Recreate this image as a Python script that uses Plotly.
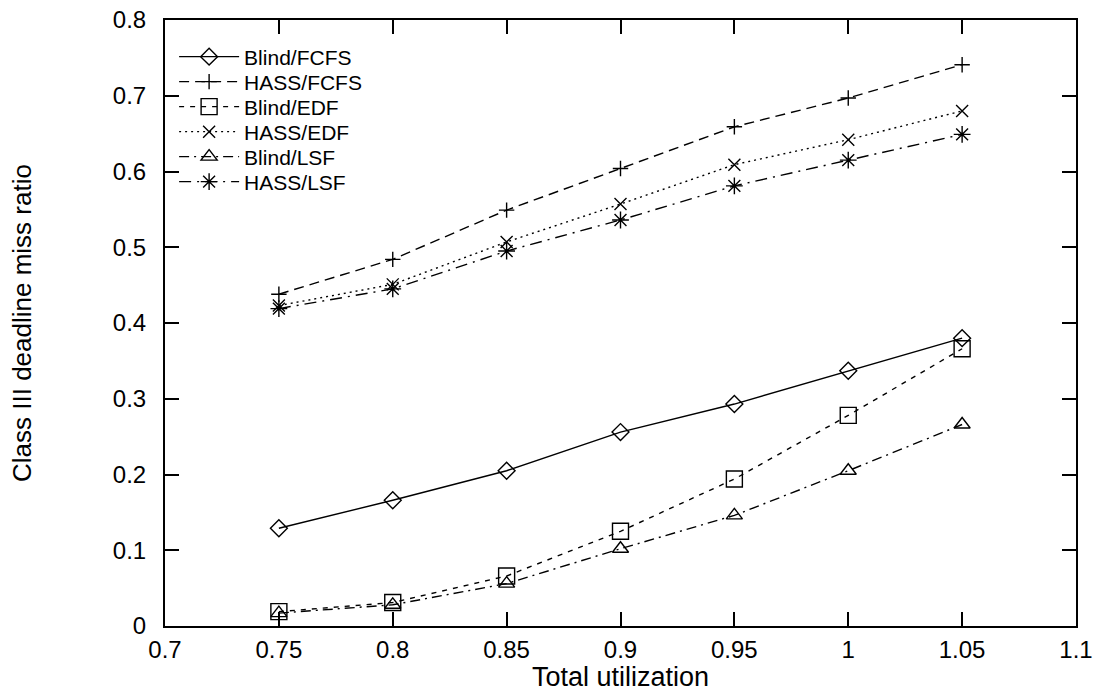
import plotly.graph_objects as go

# ---- data ----
utilization = [0.75, 0.8, 0.85, 0.9, 0.95, 1.0, 1.05]

blind_fcfs = [0.129, 0.166, 0.205, 0.256, 0.293, 0.337, 0.380]
hass_fcfs = [0.438, 0.484, 0.549, 0.604, 0.659, 0.697, 0.741]
blind_edf = [0.019, 0.031, 0.066, 0.125, 0.194, 0.278, 0.366]
hass_edf = [0.423, 0.451, 0.507, 0.557, 0.609, 0.642, 0.680]
blind_lsf = [0.017, 0.028, 0.056, 0.102, 0.146, 0.205, 0.266]
hass_lsf = [0.419, 0.445, 0.495, 0.536, 0.581, 0.615, 0.649]

series_names = ["Blind/FCFS", "HASS/FCFS", "Blind/EDF", "HASS/EDF", "Blind/LSF", "HASS/LSF"]
series_values = [blind_fcfs, hass_fcfs, blind_edf, hass_edf, blind_lsf, hass_lsf]

x_tick_vals = [0.7, 0.75, 0.8, 0.85, 0.9, 0.95, 1.0, 1.05, 1.1]
x_tick_text = ["0.7", "0.75", "0.8", "0.85", "0.9", "0.95", "1", "1.05", "1.1"]
y_tick_vals = [0, 0.1, 0.2, 0.3, 0.4, 0.5, 0.6, 0.7, 0.8]
y_tick_text = ["0", "0.1", "0.2", "0.3", "0.4", "0.5", "0.6", "0.7", "0.8"]

x_title = "Total utilization"
y_title = "Class III deadline miss ratio"

# ---- styles ----
symbols = ["diamond-open", "cross-thin-open", "square-open", "x-thin-open",
           "triangle-up-open", "asterisk-open"]
sizes = [13, 11, 16, 12, 14, 14]
dashes = ["solid", "10px,6px", "5px,6px", "2px,4px", "10px,5px,2px,5px", "12px,6px,2px,6px"]

FONT = "Liberation Sans, Arial, Helvetica, sans-serif"

W, H = 1101, 692
L, R, T, B = 165, 25, 20, 66
plot_w = W - L - R
plot_h = H - T - B
plot_bottom = H - B

fig = go.Figure()
legend_keys = ["legend", "legend2", "legend3", "legend4", "legend5", "legend6"]
row_px = [57, 82, 107, 132, 157, 182]  # legend row centres, pixels from top

for i, (name, vals) in enumerate(zip(series_names, series_values)):
    fig.add_trace(go.Scatter(
        x=utilization, y=vals, name=name, mode="lines+markers",
        line=dict(color="black", width=1.4, dash=dashes[i]),
        marker=dict(symbol=symbols[i], size=sizes[i], color="black",
                    line=dict(color="black", width=1.4)),
        legend=legend_keys[i], showlegend=True,
    ))

layout_legends = {}
for i, key in enumerate(legend_keys):
    layout_legends[key] = dict(
        x=0.01, xanchor="left",
        y=(plot_bottom - row_px[i]) / plot_h, yanchor="middle",
        bgcolor="rgba(0,0,0,0)", borderwidth=0,
        font=dict(family=FONT, size=21, color="black"),
        itemwidth=60, tracegroupgap=0, visible=True,
    )

axis_common = dict(
    showline=True, linecolor="black", linewidth=2, mirror="ticks",
    ticks="inside", ticklen=14, tickwidth=2, tickcolor="black",
    showgrid=False, zeroline=False,
    tickfont=dict(family=FONT, size=24, color="black"),
)

fig.update_layout(
    width=W, height=H, showlegend=True,
    margin=dict(l=L, r=R, t=T, b=B, autoexpand=False),
    plot_bgcolor="white", paper_bgcolor="white",
    font=dict(family=FONT, color="black"),
    xaxis=dict(range=[0.7, 1.1], tickvals=x_tick_vals, ticktext=x_tick_text,
               ticklabelstandoff=1, **axis_common),
    yaxis=dict(range=[0, 0.8], tickvals=y_tick_vals, ticktext=y_tick_text,
               ticklabelstandoff=12, **axis_common),
    annotations=[
        dict(text=x_title, xref="paper", yref="paper", x=0.5,
             y=(plot_bottom - 677) / plot_h,
             xanchor="center", yanchor="middle", showarrow=False,
             font=dict(family=FONT, size=27, color="black")),
        dict(text=y_title, xref="paper", yref="paper",
             x=(22 - L) / plot_w, y=0.5,
             xanchor="center", yanchor="middle", showarrow=False, textangle=-90,
             font=dict(family=FONT, size=26, color="black")),
    ],
    **layout_legends,
)

fig.write_html("out.html",
               config={"displayModeBar": False},
               post_script="document.body.style.margin='0';document.body.style.overflow='hidden';")
